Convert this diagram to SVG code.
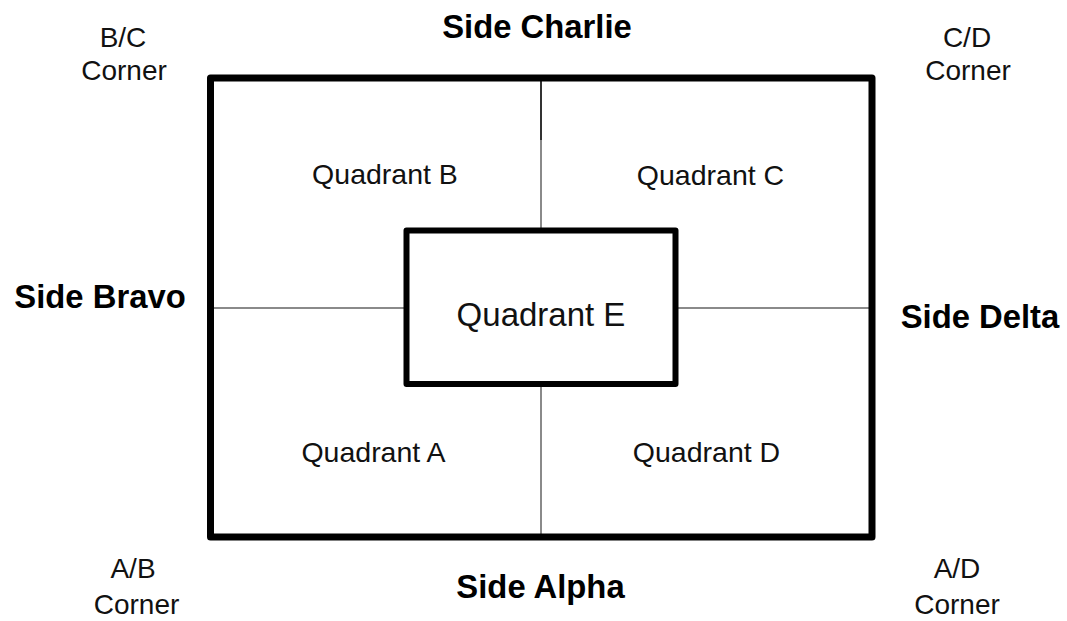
<svg xmlns="http://www.w3.org/2000/svg" width="1067" height="621" viewBox="0 0 1067 621">
<style>
.q{font-family:"Liberation Sans",Arial,sans-serif;font-size:28.5px;fill:#111;text-anchor:middle}
.qe{font-family:"Liberation Sans",Arial,sans-serif;font-size:33px;fill:#111;text-anchor:middle}
.s{font-family:"Liberation Sans",Arial,sans-serif;font-size:32.8px;font-weight:bold;fill:#000;text-anchor:middle}
.c{font-family:"Liberation Sans",Arial,sans-serif;font-size:28px;fill:#111;text-anchor:middle}
.div{stroke:#8a8a8a;stroke-width:2;fill:none}
.box{fill:none;stroke:#000;stroke-linejoin:round}
</style>
<rect width="1067" height="621" fill="#fff"/>
<g id="connectors">
<line class="div" x1="541" y1="140" x2="541" y2="230"/>
<line x1="541" y1="78" x2="541" y2="140" stroke="#333" stroke-width="2"/>
<line class="div" x1="541" y1="384" x2="541" y2="537"/>
<line class="div" x1="210" y1="308" x2="406" y2="308"/>
<line class="div" x1="675" y1="308" x2="872" y2="308"/>
</g>
<g id="outer">
<rect class="box" x="210.5" y="78" width="661.5" height="459" stroke-width="7"/>
</g>
<g id="quadrant-e">
<rect class="box" x="406.5" y="230.5" width="269" height="153.5" stroke-width="6"/>
<text class="qe" x="541" y="326">Quadrant E</text>
</g>
<g id="quadrant-b"><text class="q" x="385" y="184">Quadrant B</text></g>
<g id="quadrant-c"><text class="q" x="710.5" y="185">Quadrant C</text></g>
<g id="quadrant-a"><text class="q" x="373.5" y="462">Quadrant A</text></g>
<g id="quadrant-d"><text class="q" x="706.5" y="462">Quadrant D</text></g>
<g id="side-charlie"><text class="s" x="537" y="38">Side Charlie</text></g>
<g id="side-bravo"><text class="s" x="100" y="308">Side Bravo</text></g>
<g id="side-delta"><text class="s" x="980" y="327.5">Side Delta</text></g>
<g id="side-alpha"><text class="s" x="540.5" y="598">Side Alpha</text></g>
<g id="corner-bc"><text class="c" x="123" y="46.5">B/C</text><text class="c" x="124" y="80">Corner</text></g>
<g id="corner-cd"><text class="c" x="967" y="46.5">C/D</text><text class="c" x="968" y="79.5">Corner</text></g>
<g id="corner-ab"><text class="c" x="133" y="578">A/B</text><text class="c" x="136.5" y="613.5">Corner</text></g>
<g id="corner-ad"><text class="c" x="957" y="578">A/D</text><text class="c" x="957" y="613.5">Corner</text></g>
</svg>
